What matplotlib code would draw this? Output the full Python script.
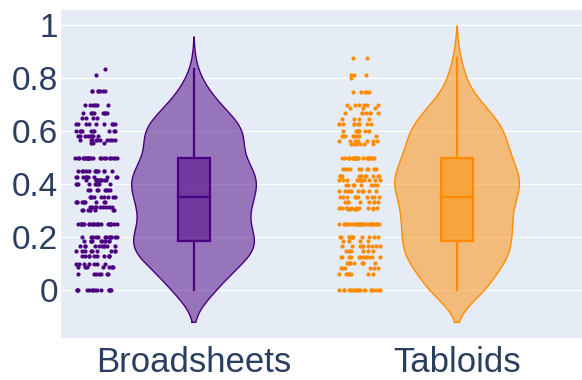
import numpy as np
import matplotlib
matplotlib.use("Agg")
import matplotlib.pyplot as plt
from matplotlib.patches import Rectangle

# ---------------- data ----------------
categories = ["Broadsheets", "Tabloids"]

broadsheets_levels = [0.833, 0.811, 0.75, 0.70, 0.667, 0.65, 0.625, 0.60, 0.583, 0.565, 0.553,
                      0.50, 0.45, 0.428, 0.415, 0.40, 0.377, 0.352, 0.333, 0.312, 0.302,
                      0.25, 0.20, 0.186, 0.166, 0.147, 0.128, 0.10, 0.086, 0.06, 0.0]
broadsheets_counts = [1, 1, 7, 6, 8, 4, 9, 10, 8, 10, 3,
                      22, 12, 10, 10, 9, 8, 9, 10, 9, 8,
                      22, 12, 10, 10, 9, 10, 7, 8, 7, 14]

tabloids_levels = [0.874, 0.811, 0.80, 0.748, 0.70, 0.686, 0.667, 0.645, 0.626, 0.60, 0.581, 0.563, 0.55,
                   0.50, 0.455, 0.43, 0.415, 0.396, 0.375, 0.352, 0.333, 0.311, 0.304,
                   0.25, 0.199, 0.186, 0.166, 0.147, 0.126, 0.103, 0.082, 0.06, 0.0]
tabloids_counts = [2, 3, 1, 5, 6, 3, 7, 4, 9, 8, 8, 9, 6,
                   25, 10, 12, 12, 8, 10, 10, 8, 10, 6,
                   28, 12, 4, 9, 7, 12, 9, 6, 8, 20]

line_colors = ["#4B0082", "#FF8C00"]
y_ticks = [0, 0.2, 0.4, 0.6, 0.8, 1]
y_tick_labels = ["0", "0.2", "0.4", "0.6", "0.8", "1"]

series = [np.repeat(broadsheets_levels, broadsheets_counts).astype(float),
          np.repeat(tabloids_levels, tabloids_counts).astype(float)]

# ---------------- figure ----------------
W, H = 582, 380
fig = plt.figure(figsize=(W / 100, H / 100), dpi=100)
ax = fig.add_axes([61 / W, (380 - 338) / H, (582 - 61) / W, (338 - 10) / H])
ax.set_facecolor("#E5ECF6")
ax.set_xlim(-0.5057, 1.475)
ax.set_ylim(-0.1811, 1.0566)
for s in ax.spines.values():
    s.set_visible(False)
ax.set_yticks(y_ticks)
ax.set_yticklabels(y_tick_labels)
ax.set_xticks(range(len(categories)))
ax.set_xticklabels(categories)
ax.tick_params(axis="both", length=0, labelsize=24, labelcolor="#2A3F5F")
ax.tick_params(axis="x", labelsize=25, pad=6)
ax.tick_params(axis="y", pad=2)
for t in ax.get_xticklabels() + ax.get_yticklabels():
    t.set_fontfamily(["Liberation Sans", "DejaVu Sans"])
ax.grid(axis="y", color="white", linewidth=0.8)
ax.set_axisbelow(True)

half_width = 0.237
box_half = 0.0625
pt_offset = -0.371
jit_half = 0.08
bw = 0.061
rng = np.random.default_rng(5)

for i, (vals, col) in enumerate(zip(series, line_colors)):
    n = len(vals)
    q1, med, q3 = np.percentile(vals, [25, 50, 75])
    iqr = q3 - q1
    ys = np.linspace(vals.min() - 2 * bw, vals.max() + 2 * bw, 400)
    dens = np.exp(-0.5 * ((ys[:, None] - vals[None, :]) / bw) ** 2).sum(axis=1)
    dens = dens / dens.max() * half_width
    ax.fill_betweenx(ys, i - dens, i + dens, facecolor=col, alpha=0.5, linewidth=0, zorder=2)
    ax.plot(np.r_[i - dens, (i + dens)[::-1], (i - dens)[:1]],
            np.r_[ys, ys[::-1], ys[:1]], color=col, lw=1.0, zorder=3)
    lo = vals[vals >= q1 - 1.5 * iqr].min()
    hi = vals[vals <= q3 + 1.5 * iqr].max()
    ax.plot([i, i], [lo, q1], color=col, lw=1.6, zorder=4)
    ax.plot([i, i], [q3, hi], color=col, lw=1.6, zorder=4)
    ax.add_patch(Rectangle((i - box_half, q1), 2 * box_half, q3 - q1,
                           facecolor=col, alpha=0.5, edgecolor="none", zorder=4))
    ax.add_patch(Rectangle((i - box_half, q1), 2 * box_half, q3 - q1,
                           facecolor="none", edgecolor=col, lw=1.6, zorder=5))
    ax.plot([i - box_half, i + box_half], [med, med], color=col, lw=1.6, zorder=5)

    # jittered points (density-scaled jitter)
    sv = np.sort(vals)
    min_sp = 0.01 * (sv.max() - sv.min())
    fac = np.zeros(n)
    for k in range(n):
        k0 = max(0, k - 5)
        k1 = min(n - 1, k + 5)
        fac[k] = np.sqrt((k1 - k0) / (sv[k1] - sv[k0] + min_sp))
    fac = np.clip(fac / np.percentile(fac, 40), 0, 1)
    xs = i + pt_offset + jit_half * fac * rng.uniform(-1, 1, n)
    ax.scatter(xs, sv, s=9, color=col, linewidths=0, zorder=3)

fig.savefig("out.png", dpi=100)
